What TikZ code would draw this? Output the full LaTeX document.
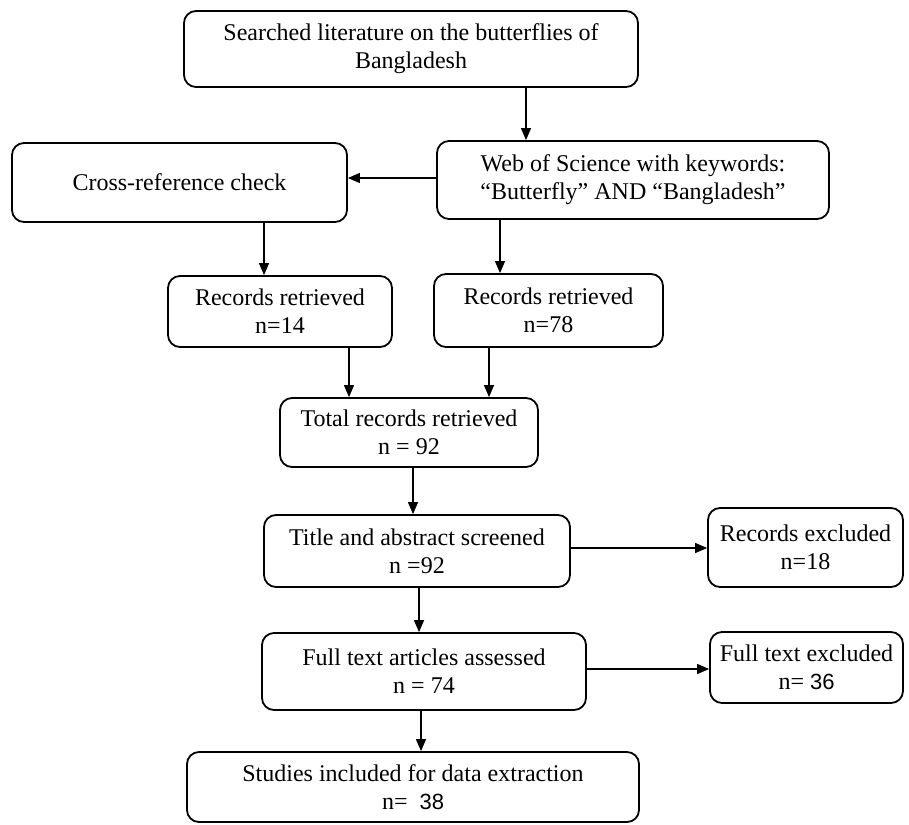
\documentclass[tikz,border=0pt]{standalone}
\usepackage{fontspec}
\setmainfont{Liberation Serif}
\newfontfamily\digitfont{Liberation Sans}
\usetikzlibrary{arrows.meta}
\begin{document}
\begin{tikzpicture}[x=1pt,y=-1pt,
  box/.style={draw, line width=1.8pt, rounded corners=12pt, align=center,
    font=\fontsize{24}{28}\selectfont, inner sep=0pt},
  arr/.style={line width=1.2pt, -{Triangle[length=12pt,width=10pt]}}]
\useasboundingbox (0,0) rectangle (909,824);
\fill[white] (0,0) rectangle (909,824);
% boxes
\node[box, minimum width=454pt, minimum height=76pt] (lit) at (411,49)
  {Searched literature on the butterflies of\\Bangladesh};
\node[box, minimum width=392pt, minimum height=78pt] (wos) at (633,180)
  {Web of Science with keywords:\\“Butterfly” AND “Bangladesh”};
\node[box, minimum width=335pt, minimum height=79pt] (cross) at (179.5,182.5)
  {Cross-reference check};
\node[box, minimum width=224pt, minimum height=71pt] (r14) at (280,311.5)
  {Records retrieved\\n=14};
\node[box, minimum width=229pt, minimum height=73pt] (r78) at (548.5,310.5)
  {Records retrieved\\n=78};
\node[box, minimum width=258pt, minimum height=69pt] (total) at (409,432.5)
  {Total records retrieved\\n = 92};
\node[box, minimum width=306pt, minimum height=72pt] (title) at (417,551)
  {Title and abstract screened\\n =92};
\node[box, minimum width=195pt, minimum height=79pt] (recex) at (805.5,547.5)
  {Records excluded\\n=18};
\node[box, minimum width=324pt, minimum height=77pt] (fulla) at (424,671.5)
  {Full text articles assessed\\n = 74};
\node[box, minimum width=193pt, minimum height=71pt] (fullex) at (806.5,667.5)
  {Full text excluded\\n= {\digitfont\fontsize{22}{28}\selectfont 36}};
\node[box, minimum width=452pt, minimum height=70pt] (stud) at (413,787)
  {Studies included for data extraction\\n=~~{\digitfont\fontsize{22}{28}\selectfont 38}};
% helper coordinates for connector positions
\coordinate (xa) at (526,0);
\coordinate (xb) at (264,0);
\coordinate (xc) at (500,0);
\coordinate (xd) at (349,0);
\coordinate (xe) at (489,0);
\coordinate (xf) at (413,0);
\coordinate (xg) at (419,0);
\coordinate (xh) at (421,0);
\coordinate (ya) at (0,178);
\coordinate (yb) at (0,548);
\coordinate (yc) at (0,669);
% connectors
\draw[arr] (lit.south -| xa) -- (wos.north -| xa);
\draw[arr] (wos.west |- ya) -- (cross.east |- ya);
\draw[arr] (cross.south -| xb) -- (r14.north -| xb);
\draw[arr] (wos.south -| xc) -- (r78.north -| xc);
\draw[arr] (r14.south -| xd) -- (total.north -| xd);
\draw[arr] (r78.south -| xe) -- (total.north -| xe);
\draw[arr] (total.south -| xf) -- (title.north -| xf);
\draw[arr] (title.east |- yb) -- (recex.west |- yb);
\draw[arr] (title.south -| xg) -- (fulla.north -| xg);
\draw[arr] (fulla.east |- yc) -- (fullex.west |- yc);
\draw[arr] (fulla.south -| xh) -- (stud.north -| xh);
\end{tikzpicture}
\end{document}
